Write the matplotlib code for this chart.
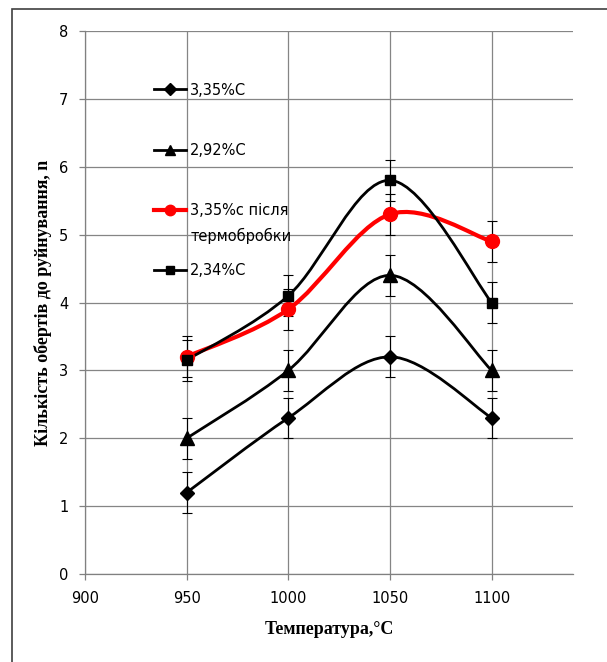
import numpy as np
import matplotlib
matplotlib.use('Agg')
import matplotlib.pyplot as plt
from matplotlib.path import Path
from matplotlib.patches import PathPatch, Rectangle
from matplotlib.lines import Line2D

plt.rcParams['font.family'] = ['Liberation Sans Narrow', 'DejaVu Sans']

# дані
temp = [950, 1000, 1050, 1100]
c335 = [1.2, 2.3, 3.2, 2.3]
c292 = [2.0, 3.0, 4.4, 3.0]
c335_heat = [3.2, 3.9, 5.3, 4.9]
c234 = [3.15, 4.1, 5.8, 4.0]
err = [0.3, 0.3, 0.3, 0.3]

labels = ['3,35%C', '2,92%C', '3,35%с після', '2,34%C']
xticks = [900, 950, 1000, 1050, 1100]
yticks = [0, 1, 2, 3, 4, 5, 6, 7, 8]


# згладжена лінія як у Excel (кубічні криві Безьє)
def smooth_path(xs, ys):
    p = np.column_stack([xs, ys]).astype(float)
    n = len(p)
    verts = [p[0]]
    codes = [Path.MOVETO]
    for i in range(n - 1):
        p0 = p[i - 1] if i > 0 else p[i]
        p3 = p[i + 2] if i + 2 < n else p[i + 1]
        c1 = p[i] + (p[i + 1] - p0) / 6
        c2 = p[i + 1] - (p3 - p[i]) / 6
        verts += [c1, c2, p[i + 1]]
        codes += [Path.CURVE4] * 3
    return Path(verts, codes)


fig = plt.figure(figsize=(6.07, 6.62), dpi=100)
ax = fig.add_axes([0.140, 0.1329, 0.804, 0.8203])

series = [
    (c335, 'D', 7.5, 'black', 2.0),
    (c292, '^', 9.5, 'black', 2.0),
    (c335_heat, 'o', 10, 'red', 3.0),
    (c234, 's', 7.5, 'black', 2.0),
]

handles = []
for (vals, mk, ms, col, lw), lab in zip(series, labels):
    ax.errorbar(temp, vals, yerr=err, fmt='none', ecolor='black',
                elinewidth=0.8, capsize=3.8, capthick=0.8, zorder=2)
    ax.add_patch(PathPatch(smooth_path(temp, vals), facecolor='none',
                           edgecolor=col, lw=lw, zorder=3))
    ax.plot(temp, vals, linestyle='none', marker=mk, ms=ms, color=col, zorder=4)
    handles.append(Line2D([], [], color=col, lw=lw, marker=mk, ms=ms * 0.75))

ax.set_xlim(900, 1140)
ax.set_ylim(0, 8)
ax.set_xticks(xticks)
ax.set_yticks(yticks)
ax.grid(True, color='#858585', lw=0.9)
ax.set_axisbelow(True)
for s in ['top', 'right']:
    ax.spines[s].set_visible(False)
for s in ['left', 'bottom']:
    ax.spines[s].set_color('#808080')
    ax.spines[s].set_linewidth(0.9)
ax.tick_params(axis='both', direction='out', length=4, width=0.9,
               color='#808080', labelsize=10.5, pad=8)

ax.set_xlabel('Температура,°С', family='Liberation Serif', fontweight='bold',
              fontsize=13, labelpad=11)
ax.set_ylabel('Кількість обертів до руйнування, n', family='Liberation Serif',
              fontweight='bold', fontsize=13, labelpad=5)

leg = ax.legend(handles, labels, loc='upper left', bbox_to_anchor=(0.141, 0.905),
                frameon=False, fontsize=10.5, borderpad=0, borderaxespad=0,
                labelspacing=3.1, handlelength=2.2, handletextpad=0.3)

fig.canvas.draw()
bb = leg.get_texts()[2].get_window_extent()
fig.text(bb.x0 / fig.bbox.width, (bb.y0 - 26) / fig.bbox.height, 'термобробки',
         fontsize=10.5, ha='left', va='bottom')

fig.add_artist(Rectangle((12 / 607, -0.1), 1.2, 1.1 - 9 / 662,
                         transform=fig.transFigure, fill=False,
                         edgecolor='#404040', lw=1.2))

fig.savefig('out.png', dpi=100)
